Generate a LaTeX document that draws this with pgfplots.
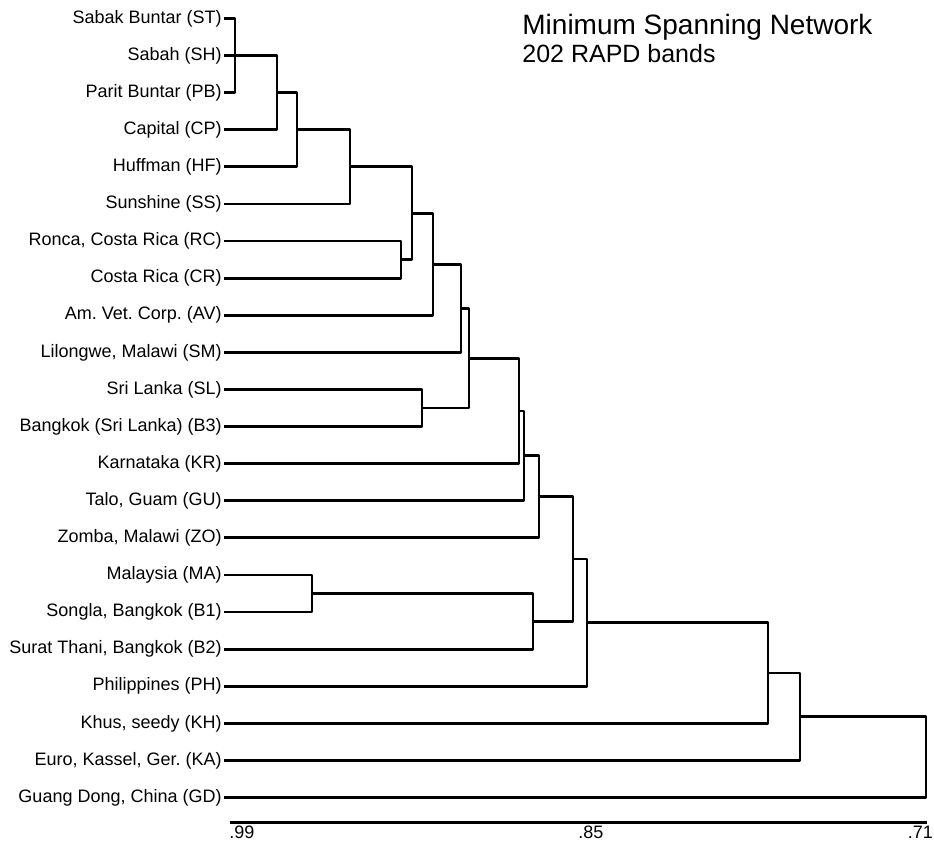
\documentclass[border=0pt]{standalone}
\usepackage{fontspec}
\setmainfont{Liberation Sans}
\usepackage{pgfplots}
\pgfplotsset{compat=1.18}
\begin{document}
\frenchspacing
\begin{tikzpicture}[x=1pt,y=1pt]
\path[use as bounding box] (0,0) rectangle (467,421.5);
\begin{axis}[
  at={(115pt,10.3pt)}, anchor=south west,
  scale only axis, width=348.5pt, height=401.95pt,
  x dir=reverse, xmin=0.7112, xmax=0.99, ymin=0.33, ymax=22,
  clip=false,
  axis line style={draw=none}, tick style={draw=none}, major tick length=0pt,
  xtick={0.9852,0.8456,0.7138}, xticklabels={.99,.85,.71},
  ytick={1,...,22},
  yticklabels={{Guang Dong, China (GD)},{Euro, Kassel, Ger. (KA)},{Khus, seedy (KH)},{Philippines (PH)},{Surat Thani, Bangkok (B2)},{Songla, Bangkok (B1)},{Malaysia (MA)},{Zomba, Malawi (ZO)},{Talo, Guam (GU)},{Karnataka (KR)},{Bangkok (Sri Lanka) (B3)},{Sri Lanka (SL)},{Lilongwe, Malawi (SM)},{Am. Vet. Corp. (AV)},{Costa Rica (CR)},{Ronca, Costa Rica (RC)},{Sunshine (SS)},{Huffman (HF)},{Capital (CP)},{Parit Buntar (PB)},{Sabah (SH)},{Sabak Buntar (ST)}},
  tick label style={font=\fontsize{9}{11}\selectfont, inner sep=0pt},
  x tick label style={anchor=north, yshift=-1.8pt},
  y tick label style={anchor=east, xshift=-4pt},
  br/.style={black, solid, mark=none, line width=1.4pt, line join=round, line cap=butt},
]
% axis line
\addplot[black, solid, mark=none, line width=1.2pt] coordinates {(0.99,0.33) (0.7112,0.33)};
% merges
\addplot[br] coordinates {(0.9924,22) (0.9880,22) (0.9880,20) (0.9924,20)};
\addplot[br] coordinates {(0.9924,21) (0.9712,21) (0.9712,19) (0.9924,19)};
\addplot[br] coordinates {(0.9712,20) (0.9632,20) (0.9632,18) (0.9924,18)};
\addplot[br] coordinates {(0.9632,19) (0.9420,19) (0.9420,17) (0.9924,17)};
\addplot[br] coordinates {(0.9924,16) (0.9216,16) (0.9216,15) (0.9924,15)};
\addplot[br] coordinates {(0.9420,18) (0.9172,18) (0.9172,15.5) (0.9216,15.5)};
\addplot[br] coordinates {(0.9172,16.75) (0.9088,16.75) (0.9088,14) (0.9924,14)};
\addplot[br] coordinates {(0.9088,15.375) (0.8976,15.375) (0.8976,13) (0.9924,13)};
\addplot[br] coordinates {(0.9924,12) (0.9132,12) (0.9132,11) (0.9924,11)};
\addplot[br] coordinates {(0.8976,14.1875) (0.8944,14.1875) (0.8944,11.5) (0.9132,11.5)};
\addplot[br] coordinates {(0.8944,12.84375) (0.8744,12.84375) (0.8744,10) (0.9924,10)};
\addplot[br] coordinates {(0.8744,11.421875) (0.8724,11.421875) (0.8724,9) (0.9924,9)};
\addplot[br] coordinates {(0.8724,10.2109) (0.8664,10.2109) (0.8664,8) (0.9924,8)};
\addplot[br] coordinates {(0.9924,7) (0.9572,7) (0.9572,6) (0.9924,6)};
\addplot[br] coordinates {(0.9572,6.5) (0.8688,6.5) (0.8688,5) (0.9924,5)};
\addplot[br] coordinates {(0.8664,9.1055) (0.8528,9.1055) (0.8528,5.75) (0.8688,5.75)};
\addplot[br] coordinates {(0.8528,7.4277) (0.8472,7.4277) (0.8472,4) (0.9924,4)};
\addplot[br] coordinates {(0.8472,5.7139) (0.7748,5.7139) (0.7748,3) (0.9924,3)};
\addplot[br] coordinates {(0.7748,4.3569) (0.7620,4.3569) (0.7620,2) (0.9924,2)};
\addplot[br] coordinates {(0.7620,3.1785) (0.7116,3.1785) (0.7116,1) (0.9924,1)};
\end{axis}
\node[anchor=base west, inner sep=0pt, font=\fontsize{14}{16}\selectfont] at (261,404) {Minimum Spanning Network};
\node[anchor=base west, inner sep=0pt, font=\fontsize{12.5}{15}\selectfont] at (261,390) {202 RAPD bands};
\end{tikzpicture}
\end{document}
